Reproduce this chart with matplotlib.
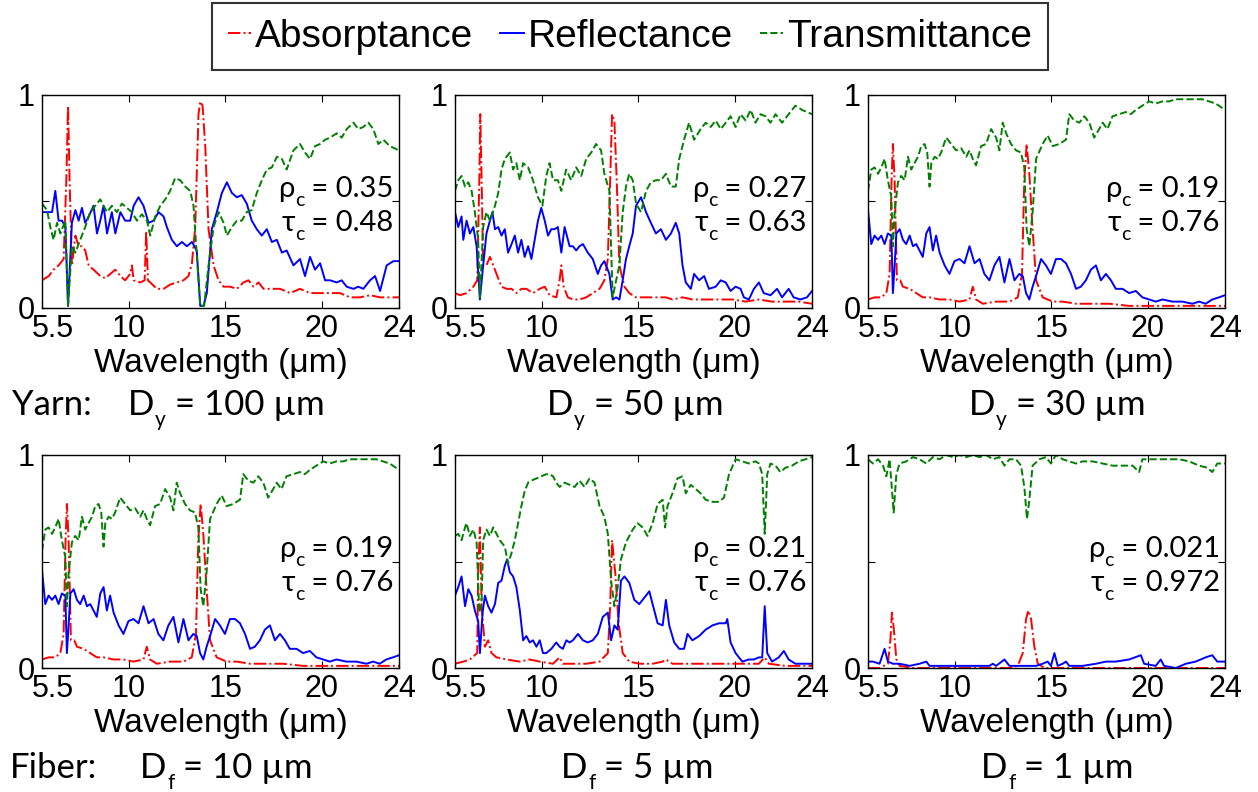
import numpy as np
import matplotlib
matplotlib.use('Agg')
import matplotlib.pyplot as plt
from matplotlib.lines import Line2D
from matplotlib.transforms import ScaledTranslation

# spectra (wavelength in um, fraction 0..1)
# ---- yarn, D_y = 100 um
y100_wl_A = [5.50,5.85,6.10,6.36,6.62,6.76,6.85,6.93,7.05,7.23,
             7.40,7.57,7.74,7.92,8.17,8.52,8.78,9.04,9.30,9.56,
             9.81,10.07,10.16,10.25,10.59,10.82,10.90,10.99,11.11,11.45,
             11.80,12.14,12.49,12.83,13.09,13.27,13.44,13.61,13.70,13.82,
             13.96,14.13,14.39,14.65,14.91,15.25,15.60,15.94,16.20,16.46,
             16.72,16.98,17.32,17.84,18.36,18.87,19.39,19.91,20.43,20.94,
             21.46,21.98,22.50,23.02,23.53,24.00]
y100_A = [0.13,0.15,0.18,0.20,0.23,0.60,0.95,0.60,0.20,0.34,
          0.29,0.29,0.27,0.20,0.18,0.15,0.14,0.16,0.18,0.15,
          0.13,0.16,0.20,0.13,0.12,0.13,0.36,0.13,0.12,0.09,
          0.09,0.11,0.12,0.13,0.15,0.21,0.38,0.91,0.97,0.95,
          0.76,0.37,0.20,0.13,0.10,0.10,0.09,0.12,0.13,0.10,
          0.12,0.09,0.09,0.09,0.07,0.09,0.07,0.07,0.07,0.07,
          0.05,0.05,0.06,0.05,0.05,0.05]
y100_wl_R = [5.50,5.76,6.02,6.19,6.36,6.54,6.71,6.85,7.05,7.23,
             7.40,7.57,7.74,7.92,8.17,8.35,8.52,8.69,8.87,9.12,
             9.30,9.56,9.81,10.07,10.25,10.50,10.76,11.02,11.28,11.54,
             11.80,11.97,12.23,12.49,12.75,13.01,13.27,13.52,13.70,13.87,
             14.04,14.30,14.56,14.82,15.08,15.34,15.60,15.85,16.11,16.37,
             16.63,16.89,17.15,17.41,17.67,17.93,18.18,18.53,18.87,19.13,
             19.39,19.65,19.91,20.17,20.43,20.77,21.03,21.29,21.64,21.89,
             22.15,22.50,22.76,23.02,23.36,23.71,24.00]
y100_R = [0.45,0.45,0.45,0.55,0.41,0.41,0.38,0.01,0.40,0.46,
          0.41,0.47,0.40,0.43,0.48,0.35,0.41,0.48,0.35,0.45,
          0.35,0.45,0.41,0.41,0.48,0.52,0.48,0.40,0.41,0.45,
          0.43,0.38,0.32,0.29,0.31,0.29,0.31,0.27,0.01,0.01,
          0.07,0.37,0.45,0.54,0.59,0.54,0.52,0.53,0.49,0.41,
          0.37,0.34,0.37,0.31,0.32,0.26,0.27,0.20,0.23,0.15,
          0.24,0.18,0.21,0.13,0.13,0.12,0.13,0.10,0.09,0.10,
          0.09,0.13,0.15,0.08,0.20,0.22,0.22]
y100_wl_T = [5.50,5.76,5.93,6.10,6.28,6.45,6.71,6.85,7.05,7.23,
             7.48,7.74,8.00,8.26,8.52,8.69,8.87,9.12,9.38,9.64,
             9.90,10.16,10.42,10.68,10.94,11.11,11.37,11.63,11.89,12.14,
             12.40,12.66,12.92,13.18,13.35,13.61,13.70,13.90,14.13,14.39,
             14.65,14.91,15.08,15.34,15.60,15.85,16.11,16.37,16.63,16.89,
             17.15,17.41,17.67,17.93,18.18,18.53,18.87,19.13,19.39,19.65,
             19.91,20.17,20.43,20.77,21.03,21.29,21.64,21.89,22.15,22.41,
             22.67,22.93,23.19,23.53,24.00]
y100_T = [0.49,0.46,0.38,0.32,0.40,0.35,0.41,0.01,0.29,0.26,
          0.32,0.38,0.45,0.48,0.51,0.48,0.45,0.48,0.45,0.49,
          0.47,0.45,0.41,0.44,0.41,0.34,0.43,0.48,0.51,0.55,
          0.61,0.60,0.57,0.55,0.48,0.13,0.01,0.01,0.20,0.38,
          0.45,0.40,0.34,0.38,0.41,0.41,0.45,0.46,0.54,0.60,
          0.65,0.66,0.71,0.70,0.65,0.74,0.77,0.73,0.70,0.76,
          0.77,0.79,0.80,0.82,0.80,0.84,0.87,0.84,0.85,0.87,
          0.84,0.77,0.79,0.76,0.74]

# ---- yarn, D_y = 50 um
y50_wl_A = [5.50,5.76,6.10,6.45,6.65,6.76,6.81,6.88,6.96,7.13,
            7.31,7.44,7.65,7.91,8.17,8.43,8.68,8.94,9.20,9.54,
            9.89,10.15,10.40,10.75,10.92,11.01,11.13,11.35,11.61,11.95,
            12.30,12.64,12.99,13.24,13.42,13.54,13.64,13.76,13.88,14.02,
            14.28,14.53,14.88,15.40,15.91,16.43,16.77,17.29,17.80,18.49,
            19.18,19.87,20.56,21.25,21.93,22.62,23.31,24.00]
y50_A = [0.07,0.06,0.07,0.10,0.13,0.60,0.91,0.60,0.20,0.20,
         0.24,0.21,0.16,0.10,0.09,0.09,0.07,0.09,0.09,0.07,
         0.09,0.10,0.06,0.05,0.13,0.20,0.10,0.05,0.04,0.04,
         0.05,0.07,0.09,0.13,0.23,0.60,0.91,0.88,0.60,0.20,
         0.10,0.07,0.05,0.05,0.05,0.05,0.04,0.05,0.04,0.04,
         0.04,0.04,0.03,0.04,0.03,0.03,0.03,0.02]
y50_wl_R = [5.50,5.67,5.84,5.93,6.10,6.27,6.45,6.62,6.79,6.96,
            7.13,7.31,7.44,7.57,7.74,7.91,8.08,8.25,8.43,8.60,
            8.77,8.94,9.11,9.29,9.46,9.63,9.80,9.97,10.15,10.32,
            10.49,10.66,10.83,11.01,11.18,11.44,11.61,11.78,11.95,12.13,
            12.38,12.64,12.90,13.07,13.24,13.50,13.67,13.85,14.02,14.19,
            14.36,14.53,14.71,14.88,15.14,15.40,15.65,15.91,16.17,16.43,
            16.69,16.94,17.12,17.29,17.46,17.72,17.89,18.15,18.41,18.66,
            19.01,19.27,19.53,19.78,20.04,20.30,20.47,20.73,20.99,21.25,
            21.50,21.85,22.19,22.45,22.79,23.05,23.40,23.74,24.00]
y50_R = [0.45,0.38,0.43,0.32,0.41,0.35,0.38,0.29,0.04,0.20,
         0.35,0.41,0.45,0.37,0.38,0.34,0.37,0.26,0.30,0.34,
         0.26,0.32,0.24,0.29,0.23,0.32,0.41,0.47,0.41,0.34,
         0.37,0.37,0.38,0.26,0.38,0.29,0.29,0.27,0.29,0.30,
         0.26,0.23,0.16,0.20,0.22,0.16,0.04,0.05,0.04,0.13,
         0.23,0.29,0.35,0.48,0.52,0.45,0.40,0.35,0.37,0.32,
         0.35,0.40,0.35,0.20,0.12,0.09,0.16,0.13,0.15,0.09,
         0.10,0.13,0.12,0.08,0.10,0.09,0.05,0.04,0.09,0.12,
         0.07,0.06,0.09,0.05,0.09,0.05,0.04,0.05,0.08]
y50_wl_T = [5.50,5.67,5.84,6.02,6.19,6.36,6.53,6.70,6.79,6.96,
            7.13,7.31,7.57,7.74,7.91,8.08,8.34,8.51,8.68,8.86,
            9.03,9.29,9.54,9.80,10.03,10.23,10.40,10.58,10.83,11.01,
            11.26,11.52,11.78,12.04,12.30,12.56,12.81,13.07,13.24,13.50,
            13.67,13.85,14.02,14.19,14.36,14.53,14.71,14.88,15.14,15.40,
            15.65,15.91,16.17,16.43,16.69,16.94,17.12,17.37,17.63,17.89,
            18.23,18.49,18.75,19.01,19.27,19.53,19.78,20.04,20.30,20.56,
            20.82,21.07,21.33,21.59,21.85,22.11,22.45,22.79,23.14,23.48,
            23.74,24.00]
y50_T = [0.55,0.60,0.62,0.57,0.59,0.55,0.45,0.32,0.05,0.38,
         0.45,0.41,0.48,0.54,0.65,0.70,0.73,0.65,0.68,0.60,
         0.68,0.66,0.60,0.52,0.48,0.62,0.68,0.60,0.60,0.55,
         0.65,0.60,0.66,0.62,0.70,0.73,0.77,0.74,0.63,0.55,
         0.05,0.13,0.20,0.45,0.57,0.63,0.60,0.49,0.45,0.55,
         0.59,0.60,0.60,0.63,0.57,0.57,0.70,0.79,0.87,0.79,
         0.84,0.87,0.85,0.88,0.84,0.87,0.90,0.85,0.91,0.88,
         0.93,0.87,0.91,0.90,0.87,0.91,0.87,0.91,0.95,0.93,
         0.92,0.91]

# ---- yarn, D_y = 30 um (the D_f = 10 um panel shows the same spectra)
y30_wl_A = [5.50,5.84,6.19,6.45,6.62,6.72,6.79,6.88,7.00,7.17,
            7.31,7.66,8.00,8.34,8.69,9.21,9.72,10.24,10.76,10.93,
            11.10,11.45,12.14,12.83,13.26,13.48,13.60,13.72,13.86,14.03,
            14.21,14.55,15.07,15.59,16.28,16.97,18.00,19.03,20.07,21.10,
            22.48,24.00]
y30_A = [0.04,0.05,0.05,0.07,0.16,0.60,0.77,0.60,0.13,0.13,
         0.10,0.09,0.07,0.05,0.05,0.04,0.04,0.03,0.04,0.10,
         0.04,0.02,0.03,0.03,0.05,0.16,0.60,0.77,0.63,0.37,
         0.13,0.05,0.03,0.03,0.02,0.02,0.02,0.01,0.01,0.01,
         0.01,0.01]
y30_wl_R = [5.50,5.67,5.84,6.02,6.19,6.36,6.53,6.71,6.79,6.88,
            6.97,7.14,7.31,7.48,7.66,7.83,8.00,8.17,8.34,8.52,
            8.69,8.86,9.03,9.21,9.47,9.72,9.98,10.24,10.50,10.76,
            11.02,11.28,11.53,11.79,12.05,12.31,12.57,12.83,13.09,13.34,
            13.52,13.69,13.86,14.03,14.21,14.47,14.72,14.98,15.24,15.50,
            15.76,16.02,16.28,16.53,16.79,17.05,17.31,17.57,17.83,18.09,
            18.34,18.69,19.03,19.38,19.72,20.07,20.41,20.76,21.28,21.79,
            22.31,22.66,23.00,23.34,23.69,24.00]
y30_R = [0.46,0.30,0.34,0.32,0.34,0.30,0.35,0.34,0.07,0.20,
         0.35,0.37,0.32,0.30,0.34,0.29,0.30,0.27,0.24,0.35,
         0.38,0.27,0.34,0.26,0.20,0.16,0.22,0.23,0.21,0.29,
         0.21,0.23,0.16,0.13,0.20,0.24,0.12,0.23,0.13,0.16,
         0.15,0.07,0.04,0.10,0.15,0.23,0.20,0.16,0.23,0.23,
         0.21,0.16,0.09,0.10,0.13,0.18,0.20,0.13,0.16,0.13,
         0.09,0.09,0.07,0.08,0.05,0.04,0.03,0.04,0.03,0.03,
         0.02,0.03,0.02,0.04,0.05,0.06]
y30_wl_T = [5.50,5.67,5.84,6.02,6.19,6.36,6.53,6.71,6.79,6.88,
            7.05,7.22,7.40,7.57,7.74,7.91,8.09,8.26,8.43,8.57,
            8.69,8.78,8.95,9.12,9.29,9.55,9.81,10.07,10.33,10.59,
            10.76,10.93,11.10,11.36,11.62,11.88,12.14,12.31,12.48,12.66,
            12.91,13.17,13.43,13.60,13.72,13.86,14.03,14.21,14.55,14.81,
            15.07,15.41,15.76,15.93,16.19,16.45,16.71,16.97,17.22,17.48,
            17.66,17.91,18.17,18.52,18.86,19.12,19.38,19.72,20.07,20.41,
            20.76,21.10,21.45,21.79,22.14,22.48,22.83,23.17,23.52,24.00]
y30_T = [0.55,0.65,0.66,0.63,0.66,0.70,0.60,0.52,0.29,0.45,
         0.59,0.62,0.60,0.71,0.65,0.68,0.71,0.76,0.77,0.73,
         0.57,0.68,0.71,0.70,0.73,0.80,0.77,0.74,0.75,0.71,
         0.74,0.70,0.67,0.76,0.77,0.84,0.80,0.74,0.87,0.82,
         0.77,0.74,0.73,0.66,0.37,0.29,0.45,0.70,0.77,0.81,
         0.76,0.77,0.79,0.91,0.88,0.87,0.90,0.87,0.80,0.84,
         0.87,0.84,0.90,0.91,0.92,0.91,0.93,0.95,0.97,0.96,
         0.97,0.97,0.98,0.98,0.98,0.98,0.98,0.97,0.96,0.93]

# ---- fiber, D_f = 5 um
f5_wl_A = [5.50,5.93,6.27,6.65,6.70,6.79,6.88,7.05,7.22,7.39,
           7.65,8.17,8.86,9.37,9.89,10.58,10.92,11.09,11.61,12.30,
           12.99,13.42,13.54,13.64,13.81,13.98,14.19,14.53,15.05,15.74,
           16.26,16.43,16.77,17.46,18.49,19.53,20.56,21.25,21.55,21.76,
           22.62,23.31,24.00]
f5_A = [0.02,0.03,0.04,0.07,0.45,0.66,0.29,0.10,0.13,0.07,
        0.05,0.04,0.03,0.04,0.03,0.02,0.05,0.02,0.02,0.02,
        0.03,0.07,0.29,0.60,0.44,0.21,0.07,0.03,0.02,0.02,
        0.03,0.04,0.02,0.02,0.02,0.02,0.02,0.02,0.05,0.02,
        0.01,0.01,0.01]
f5_wl_R = [5.50,5.67,5.84,6.02,6.19,6.36,6.53,6.70,6.79,6.93,
           7.05,7.22,7.39,7.57,7.74,7.91,8.08,8.20,8.34,8.51,
           8.68,8.86,9.03,9.20,9.37,9.54,9.72,9.89,10.06,10.23,
           10.49,10.75,10.92,11.09,11.27,11.44,11.61,11.87,12.13,12.38,
           12.64,12.90,13.16,13.42,13.59,13.76,13.93,14.10,14.28,14.53,
           14.79,15.05,15.31,15.57,15.74,16.00,16.26,16.43,16.60,16.86,
           17.12,17.37,17.55,17.80,18.15,18.49,18.84,19.18,19.53,19.61,
           19.78,20.04,20.39,20.73,20.99,21.25,21.42,21.55,21.68,21.93,
           22.28,22.54,22.79,23.14,23.66,24.00]
f5_R = [0.34,0.38,0.43,0.29,0.37,0.34,0.27,0.22,0.07,0.26,
        0.34,0.29,0.26,0.30,0.40,0.41,0.48,0.51,0.45,0.43,
        0.38,0.27,0.13,0.15,0.12,0.13,0.10,0.13,0.07,0.07,
        0.09,0.12,0.10,0.09,0.13,0.12,0.13,0.16,0.13,0.12,
        0.13,0.16,0.24,0.26,0.13,0.20,0.18,0.41,0.43,0.40,
        0.32,0.30,0.33,0.36,0.30,0.21,0.20,0.32,0.20,0.12,
        0.09,0.09,0.16,0.13,0.15,0.18,0.20,0.21,0.21,0.23,
        0.12,0.07,0.03,0.04,0.04,0.05,0.05,0.29,0.07,0.03,
        0.05,0.08,0.04,0.02,0.02,0.02]
f5_wl_T = [5.50,5.67,5.84,6.02,6.10,6.27,6.45,6.62,6.76,6.88,
           6.96,7.13,7.31,7.48,7.65,7.82,8.08,8.25,8.43,8.60,
           8.77,8.94,9.11,9.29,9.46,9.72,9.97,10.23,10.40,10.58,
           10.75,10.92,11.18,11.44,11.70,11.95,12.21,12.47,12.73,12.99,
           13.24,13.42,13.59,13.76,13.93,14.10,14.36,14.71,14.96,15.22,
           15.48,15.74,16.00,16.26,16.39,16.51,16.77,17.03,17.29,17.46,
           17.72,17.98,18.23,18.49,18.84,19.18,19.44,19.70,20.04,20.39,
           20.73,21.07,21.25,21.42,21.55,21.68,21.85,22.11,22.36,22.62,
           22.97,23.31,23.66,24.00]
f5_T = [0.62,0.63,0.60,0.66,0.68,0.62,0.65,0.59,0.26,0.32,
        0.60,0.65,0.62,0.66,0.63,0.60,0.57,0.49,0.54,0.60,
        0.68,0.76,0.83,0.87,0.88,0.89,0.90,0.91,0.91,0.90,
        0.87,0.85,0.87,0.86,0.85,0.88,0.85,0.89,0.87,0.76,
        0.71,0.63,0.41,0.29,0.38,0.51,0.59,0.65,0.68,0.66,
        0.62,0.68,0.77,0.79,0.66,0.76,0.82,0.89,0.90,0.82,
        0.86,0.84,0.82,0.79,0.78,0.78,0.80,0.91,0.98,0.97,
        0.96,0.97,0.96,0.91,0.63,0.91,0.96,0.95,0.92,0.94,
        0.95,0.97,0.98,0.99]

# ---- fiber, D_f = 1 um
f1_wl_A = [5.50,6.10,6.53,6.66,6.74,6.83,6.97,7.14,7.83,12.83,
           13.26,13.52,13.69,13.81,13.95,14.12,14.30,14.64,24.00]
f1_A = [0.00,0.00,0.02,0.13,0.26,0.19,0.04,0.01,0.00,0.00,
        0.01,0.07,0.23,0.27,0.23,0.10,0.02,0.00,0.00]
f1_wl_R = [5.50,5.76,6.10,6.36,6.53,6.79,7.14,7.66,8.17,8.52,
           8.69,9.21,9.72,10.41,11.10,11.79,11.97,12.14,12.57,12.83,
           13.34,13.86,14.21,14.55,14.81,14.98,15.16,15.33,15.59,15.76,
           15.93,16.62,17.31,17.83,18.34,19.03,19.64,19.81,20.41,20.67,
           20.84,21.45,21.97,22.48,23.00,23.34,23.60,24.00]
f1_R = [0.03,0.03,0.02,0.09,0.03,0.02,0.02,0.01,0.02,0.03,
        0.01,0.01,0.01,0.01,0.01,0.01,0.02,0.01,0.04,0.01,
        0.01,0.01,0.01,0.02,0.03,0.01,0.07,0.01,0.02,0.03,
        0.01,0.01,0.02,0.03,0.03,0.04,0.06,0.02,0.01,0.04,
        0.01,0.00,0.02,0.03,0.05,0.06,0.03,0.03]
f1_wl_T = [5.50,5.76,6.02,6.28,6.45,6.62,6.83,6.97,7.14,7.48,
           7.83,8.17,8.52,8.86,9.21,9.55,9.90,10.24,10.59,10.93,
           11.28,11.62,11.97,12.31,12.57,12.83,13.17,13.43,13.60,13.74,
           13.86,14.03,14.38,14.72,14.98,15.24,15.59,15.93,16.28,16.62,
           17.14,17.66,18.17,18.69,19.21,19.55,19.72,20.07,20.41,20.76,
           21.10,21.62,22.14,22.66,23.09,23.34,23.60,24.00]
f1_T = [0.98,0.96,0.98,0.95,0.90,0.98,0.73,0.91,0.96,0.97,
        0.99,0.98,0.96,0.99,0.98,1.00,0.99,1.00,0.99,1.00,
        0.99,1.00,0.98,0.99,0.95,0.98,0.98,0.95,0.85,0.70,
        0.79,0.95,0.98,0.99,0.96,1.00,0.98,0.97,0.96,0.97,
        0.97,0.96,0.95,0.95,0.95,0.92,0.98,0.98,0.98,0.98,
        0.98,0.98,0.97,0.95,0.94,0.92,0.96,0.96]

rho_c = ['0.35', '0.27', '0.19', '0.19', '0.21', '0.021']
tau_c = ['0.48', '0.63', '0.76', '0.76', '0.76', '0.972']
size_sub = ['y', 'y', 'y', 'f', 'f', 'f']
size_val = ['100', '50', '30', '10', '5', '1']

panels = [
    (y100_wl_A, y100_A, y100_wl_R, y100_R, y100_wl_T, y100_T),
    (y50_wl_A, y50_A, y50_wl_R, y50_R, y50_wl_T, y50_T),
    (y30_wl_A, y30_A, y30_wl_R, y30_R, y30_wl_T, y30_T),
    (y30_wl_A, y30_A, y30_wl_R, y30_R, y30_wl_T, y30_T),
    (f5_wl_A, f5_A, f5_wl_R, f5_R, f5_wl_T, f5_T),
    (f1_wl_A, f1_A, f1_wl_R, f1_R, f1_wl_T, f1_T),
]

W, H = 1258, 792
arial = ['Liberation Sans', 'DejaVu Sans']
calib = ['Lato', 'DejaVu Sans']
c_a, c_r, c_t = '#ff0000', '#0000ff', '#008000'
lw = 1.4

fig = plt.figure(figsize=(W / 100, H / 100), dpi=100)

# axes boxes in pixels
lefts = [42, 455, 868]
tops = [95, 455]
aw, ah = 357, 213


def coef_line(ax, yb, sym, val):
    # right aligned "sym_c = val" with a dropped subscript
    t1 = ax.text(0.985, yb, ' = ' + val, transform=ax.transAxes, ha='right',
                 va='baseline', fontsize=21, family=calib)
    t2 = ax.annotate('c', xy=(0, yb), xycoords=(t1, 'axes fraction'),
                     xytext=(0, -6.5), textcoords='offset points', ha='right',
                     va='baseline', fontsize=14, family=calib, annotation_clip=False)
    ax.annotate(sym, xy=(0, yb), xycoords=(t2, 'axes fraction'), ha='right',
                va='baseline', fontsize=21, family=calib, annotation_clip=False)


axes = []
for i, p in enumerate(panels):
    r, c = divmod(i, 3)
    x0, y0 = lefts[c], tops[r]
    ax = fig.add_axes([x0 / W, 1 - (y0 + ah) / H, aw / W, ah / H])
    axes.append(ax)
    wa, a, wr, rr, wt, t = p
    ax.plot(wa, a, color=c_a, ls='-.', lw=lw)
    ax.plot(wr, rr, color=c_r, ls='-', lw=lw)
    ax.plot(wt, t, color=c_t, ls='--', lw=lw)
    ax.set_xlim(5.5, 24)
    ax.set_ylim(0, 1)
    ax.set_xticks([5.5, 10, 15, 20, 24])
    ax.set_xticklabels(['5.5', '10', '15', '20', '24'], family=arial, fontsize=22)
    ax.set_yticks([0, 0.5, 1])
    ax.set_yticklabels(['0', '', '1'], family=arial, fontsize=22)
    ax.tick_params(direction='in', top=True, right=True, length=5, width=0.8)
    ax.tick_params(axis='x', pad=4)
    ax.tick_params(axis='y', pad=5)
    lab = ax.get_xticklabels()[0]
    lab.set_transform(lab.get_transform() + ScaledTranslation(11 / 100, 0, fig.dpi_scale_trans))
    for s in ax.spines.values():
        s.set_linewidth(1.0)
    ax.set_xlabel('Wavelength (μm)', family=arial, fontsize=24, labelpad=3)
    coef_line(ax, 0.52, 'ρ', rho_c[i])
    coef_line(ax, 0.36, 'τ', tau_c[i])

# size labels under each column (left x in px, baseline y in px)
label_x = [128, 547, 969, 140, 561, 981]
label_y = [415, 415, 415, 778, 778, 778]
fig.text(12 / W, 1 - 415 / H, 'Yarn:', fontsize=25, family=calib, va='baseline')
fig.text(10 / W, 1 - 778 / H, 'Fiber:', fontsize=25, family=calib, va='baseline')
for i in range(6):
    yf = 1 - label_y[i] / H
    ax = axes[i]
    t1 = fig.text(label_x[i] / W, yf, 'D', fontsize=25, family=calib, va='baseline')
    t2 = ax.annotate(size_sub[i], xy=(1, yf), xycoords=(t1, 'figure fraction'),
                     xytext=(0.5, -8), textcoords='offset points', ha='left',
                     va='baseline', fontsize=15, family=calib, annotation_clip=False)
    ax.annotate(' = ' + size_val[i] + ' µm', xy=(1, yf), xycoords=(t2, 'figure fraction'),
                ha='left', va='baseline', fontsize=25, family=calib, annotation_clip=False)

handles = [Line2D([], [], color=c_a, ls='-.', lw=lw),
           Line2D([], [], color=c_r, ls='-', lw=lw),
           Line2D([], [], color=c_t, ls='--', lw=lw)]
leg = fig.legend(handles, ['Absorptance', 'Reflectance', 'Transmittance'],
                 loc='upper center', bbox_to_anchor=(630 / W, 1 - 3 / H), ncol=3,
                 prop={'family': arial, 'size': 28}, frameon=True, fancybox=False,
                 edgecolor='black', handlelength=0.6, handletextpad=0.1,
                 columnspacing=0.7, borderpad=0.4, borderaxespad=0)
leg.get_frame().set_linewidth(1.5)

fig.savefig('out.png', dpi=100)
